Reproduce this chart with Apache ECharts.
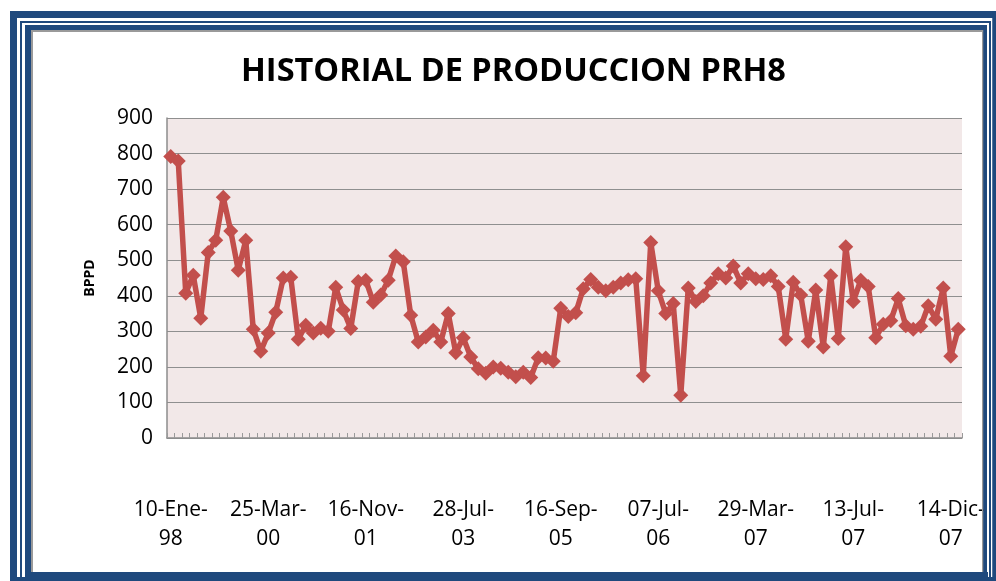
<!DOCTYPE html>
<html>
<head>
<meta charset="utf-8">
<script src="https://cdn.jsdelivr.net/npm/echarts@6/dist/echarts.min.js"></script>
<style>
  html, body { margin: 0; padding: 0; background: #ffffff; }
  #chart { width: 996px; height: 581px; }
</style>
</head>
<body>
<div id="chart"></div>
<script>
// Daily production readings for well PRH8 (barrels of oil per day)
const production = [
  792, 779, 407, 458, 337, 522, 556, 677, 582, 472,
  556, 306, 244, 295, 354, 450, 452, 278, 317, 295,
  309, 300, 424, 360, 308, 440, 444, 382, 402, 444,
  512, 496, 345, 270, 284, 303, 270, 350, 240, 282,
  228, 195, 182, 200, 196, 185, 172, 185, 170, 226,
  225, 216, 365, 342, 352, 420, 446, 424, 414, 424,
  436, 445, 448, 175, 550, 414, 350, 378, 120, 422,
  384, 400, 436, 462, 450, 484, 436, 462, 448, 446,
  456, 426, 278, 438, 402, 272, 416, 256, 456, 280,
  538, 384, 444, 426, 282, 320, 330, 392, 316, 306,
  314, 372, 334, 422, 230, 306
];

// Dates printed under the category axis, one every 13 readings
const dateLabels = [
  '10-Ene-98', '25-Mar-00', '16-Nov-01', '28-Jul-03', '16-Sep-05',
  '07-Jul-06', '29-Mar-07', '13-Jul-07', '14-Dic-07'
];
const labelStep = 13;

const yTicks = { min: 0, max: 900, interval: 100 };

const title = 'HISTORIAL DE PRODUCCION PRH8';
const yName = 'BPPD';

const categories = production.map((_, i) => i);

const chart = echarts.init(document.getElementById('chart'), null, { renderer: 'canvas' });

const navy = '#1F497D';
const grey = '#9a9a9a';

function bands(list, z0) {
  return list.map((r, i) => ({
    type: 'rect', z: z0 + i, silent: true,
    shape: { x: r.x, y: r.y, width: r.w, height: r.h },
    style: { fill: r.c }
  }));
}

// Nested border bands behind the chart
const frameBack = bands([
  { x: 10, y: 11, w: 986, h: 570, c: navy },
  { x: 17, y: 18, w: 975, h: 559, c: '#ffffff' },
  { x: 20, y: 21, w: 971, h: 556, c: navy },
  { x: 22, y: 23, w: 967, h: 554, c: '#ffffff' },
  { x: 25, y: 25, w: 962, h: 552, c: navy },
  { x: 31, y: 30, w: 952, h: 542, c: grey },
  { x: 33, y: 32, w: 949, h: 540, c: '#ffffff' }
], -20);

// Right and bottom strips redrawn on top, so text running past the edge is cut
const frameFront = bands([
  { x: 982, y: 30, w: 1.5, h: 542, c: grey },
  { x: 983.5, y: 25, w: 3.5, h: 552, c: navy },
  { x: 987, y: 23, w: 2, h: 554, c: '#ffffff' },
  { x: 989, y: 21, w: 2, h: 556, c: navy },
  { x: 991, y: 18, w: 1.5, h: 559, c: '#ffffff' },
  { x: 992.5, y: 11, w: 3.5, h: 570, c: navy },
  { x: 25, y: 572, w: 963, h: 9, c: navy }
], 100);

chart.setOption({
  backgroundColor: '#ffffff',
  animation: false,
  title: {
    text: title,
    left: 236,
    top: 50,
    textStyle: {
      fontFamily: 'Open Sans',
      fontWeight: 'bold',
      fontSize: 32.5,
      color: '#000000'
    }
  },
  graphic: frameBack.concat(frameFront),
  grid: {
    left: 167, top: 118, width: 795, height: 320,
    show: true,
    backgroundColor: '#F2E8E8',
    borderWidth: 0
  },
  xAxis: {
    type: 'category',
    data: categories,
    boundaryGap: true,
    axisLine: { show: true, lineStyle: { color: '#8c8c8c', width: 1.5 } },
    axisTick: {
      show: true, inside: true, length: 5, interval: 0,
      lineStyle: { color: '#9a9a9a', width: 1 }
    },
    axisLabel: {
      interval: labelStep - 1,
      margin: 58,
      fontFamily: 'Open Sans',
      fontSize: 21,
      lineHeight: 29,
      color: '#000000',
      formatter: (v, i) => {
        const s = dateLabels[Math.round(i / labelStep)] || '';
        const cut = s.lastIndexOf('-') + 1;
        return s.slice(0, cut) + '\n' + s.slice(cut);
      }
    },
    splitLine: { show: false }
  },
  yAxis: {
    type: 'value',
    min: yTicks.min,
    max: yTicks.max,
    interval: yTicks.interval,
    name: yName,
    nameLocation: 'middle',
    nameRotate: 90,
    nameGap: 70,
    nameTextStyle: {
      fontFamily: 'Open Sans',
      fontWeight: 'bold',
      fontSize: 14,
      color: '#000000'
    },
    axisLine: { show: true, lineStyle: { color: '#8c8c8c', width: 1.5 } },
    axisTick: { show: false },
    axisLabel: {
      margin: 14,
      fontFamily: 'Open Sans',
      fontSize: 21,
      color: '#000000'
    },
    splitLine: { show: true, lineStyle: { color: '#8f8f8f', width: 1.2 } }
  },
  series: [{
    type: 'line',
    data: production,
    symbol: 'diamond',
    symbolSize: 15,
    showAllSymbol: true,
    lineStyle: { color: '#C24F4C', width: 5.5 },
    itemStyle: { color: '#C24F4C' },
    z: 5
  }]
});
</script>
</body>
</html>
